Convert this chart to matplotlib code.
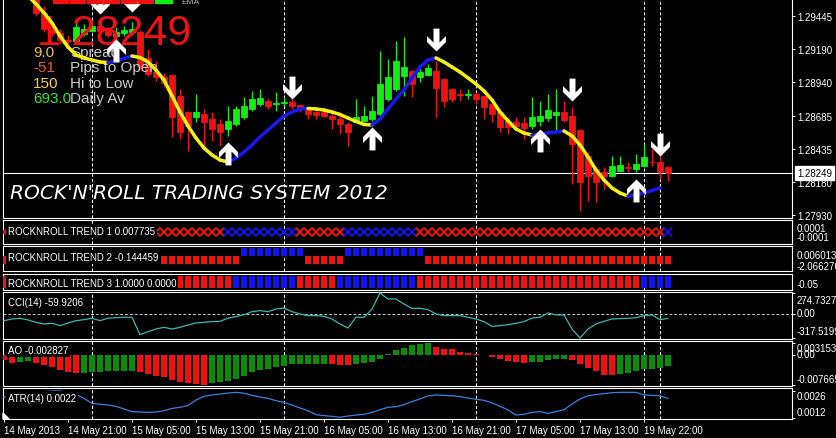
import numpy as np
import matplotlib
matplotlib.use("Agg")
import matplotlib.pyplot as plt
from matplotlib.collections import LineCollection
from matplotlib.path import Path
from matplotlib.patches import Rectangle, Polygon

# ---------------- data ----------------
time_labels = ["14 May 2013", "14 May 21:00", "15 May 05:00", "15 May 13:00",
               "15 May 21:00", "16 May 05:00", "16 May 13:00", "16 May 21:00",
               "17 May 05:00", "17 May 13:00", "19 May 22:00"]
time_label_bars = [0, 8, 16, 24, 32, 40, 48, 56, 64, 72, 80]
separator_bars = [11, 35, 59, 80, 82]

opens = [1.29640, 1.29660, 1.29630, 1.29650, 1.29620, 1.29465, 1.29344, 1.29310, 1.29260, 1.29255,
         1.29306, 1.29331, 1.29369, 1.29330, 1.29290, 1.29310, 1.29320, 1.29321, 1.29120, 1.29020,
         1.28979, 1.28994, 1.28837, 1.28710, 1.28672, 1.28698, 1.28660, 1.28622, 1.28584, 1.28622,
         1.28672, 1.28736, 1.28774, 1.28799, 1.28775, 1.28785, 1.28787, 1.28766, 1.28736, 1.28716,
         1.28710, 1.28685, 1.28660, 1.28622, 1.28639, 1.28647, 1.28660, 1.28698, 1.28812, 1.28888,
         1.28989, 1.29027, 1.28977, 1.28994, 1.29027, 1.28964, 1.28888, 1.28850, 1.28845, 1.28850,
         1.28837, 1.28774, 1.28710, 1.28647, 1.28634, 1.28627, 1.28609, 1.28647, 1.28665, 1.28690,
         1.28710, 1.28685, 1.28576, 1.28381, 1.28280, 1.28259, 1.28229, 1.28267, 1.28292, 1.28280,
         1.28300, 1.28335, 1.28335, 1.28292]
highs = [1.29690, 1.29700, 1.29680, 1.29690, 1.29640, 1.29521, 1.29390, 1.29345, 1.29300, 1.29395,
         1.29382, 1.29407, 1.29390, 1.29350, 1.29357, 1.29370, 1.29395, 1.29340, 1.29192, 1.29101,
         1.29010, 1.29002, 1.28888, 1.28723, 1.28850, 1.28736, 1.28710, 1.28660, 1.28761, 1.28761,
         1.28824, 1.28875, 1.28888, 1.28812, 1.28862, 1.28824, 1.28812, 1.28774, 1.28748, 1.28736,
         1.28736, 1.28710, 1.28685, 1.28634, 1.28812, 1.28761, 1.28837, 1.29179, 1.29116, 1.29255,
         1.29281, 1.29035, 1.29053, 1.29078, 1.29103, 1.28969, 1.28893, 1.28888, 1.28888, 1.28862,
         1.28837, 1.28786, 1.28723, 1.28672, 1.28672, 1.28672, 1.28824, 1.28799, 1.28850, 1.28888,
         1.28799, 1.28748, 1.28584, 1.28406, 1.28292, 1.28292, 1.28381, 1.28381, 1.28330, 1.28394,
         1.28470, 1.28432, 1.28419, 1.28305]
lows = [1.29610, 1.29620, 1.29600, 1.29610, 1.29440, 1.29319, 1.29290, 1.29230, 1.29230, 1.29240,
        1.29293, 1.29319, 1.29310, 1.29280, 1.29268, 1.29290, 1.29300, 1.29040, 1.28990, 1.28950,
        1.28900, 1.28520, 1.28508, 1.28419, 1.28634, 1.28457, 1.28495, 1.28457, 1.28533, 1.28609,
        1.28660, 1.28723, 1.28761, 1.28736, 1.28723, 1.28761, 1.28736, 1.28710, 1.28660, 1.28660,
        1.28672, 1.28584, 1.28546, 1.28457, 1.28634, 1.28634, 1.28647, 1.28685, 1.28799, 1.28875,
        1.28837, 1.28824, 1.28939, 1.28989, 1.28672, 1.28748, 1.28786, 1.28799, 1.28812, 1.28774,
        1.28660, 1.28634, 1.28558, 1.28546, 1.28584, 1.28508, 1.28584, 1.28609, 1.28647, 1.28571,
        1.28634, 1.28166, 1.27963, 1.28039, 1.28027, 1.28128, 1.28216, 1.28254, 1.28254, 1.28254,
        1.28292, 1.28305, 1.28204, 1.28191]
closes = [1.29660, 1.29630, 1.29650, 1.29620, 1.29465, 1.29344, 1.29310, 1.29260, 1.29250, 1.29357,
          1.29344, 1.29369, 1.29330, 1.29300, 1.29319, 1.29339, 1.29345, 1.29063, 1.29002, 1.28979,
          1.28930, 1.28672, 1.28558, 1.28609, 1.28710, 1.28634, 1.28584, 1.28558, 1.28647, 1.28736,
          1.28761, 1.28812, 1.28817, 1.28761, 1.28780, 1.28792, 1.28756, 1.28736, 1.28698, 1.28690,
          1.28685, 1.28660, 1.28622, 1.28563, 1.28672, 1.28685, 1.28723, 1.28926, 1.28977, 1.29103,
          1.29053, 1.28926, 1.29015, 1.29045, 1.28893, 1.28799, 1.28812, 1.28845, 1.28850, 1.28812,
          1.28748, 1.28698, 1.28596, 1.28596, 1.28609, 1.28591, 1.28672, 1.28685, 1.28728, 1.28716,
          1.28655, 1.28470, 1.28183, 1.28229, 1.28183, 1.28229, 1.28300, 1.28310, 1.28287, 1.28318,
          1.28368, 1.28330, 1.28254, 1.28249]

# smoothed trend line (blue while rising, yellow while falling)
trend_ma = [1.29762, 1.29709, 1.29648, 1.29595, 1.29534, 1.29466, 1.29390, 1.29291, 1.29207, 1.29146,
            1.29124, 1.29108, 1.29093, 1.29089, 1.29101, 1.29120, 1.29139, 1.29127, 1.29093, 1.29032,
            1.28956, 1.28835, 1.28713, 1.28607, 1.28515, 1.28439, 1.28386, 1.28348, 1.28333, 1.28363,
            1.28409, 1.28462, 1.28523, 1.28576, 1.28629, 1.28683, 1.28713, 1.28736, 1.28740, 1.28736,
            1.28728, 1.28713, 1.28694, 1.28667, 1.28641, 1.28618, 1.28614, 1.28660, 1.28736, 1.28812,
            1.28880, 1.28972, 1.29055, 1.29108, 1.29124, 1.29093, 1.29055, 1.29017, 1.28972, 1.28926,
            1.28873, 1.28804, 1.28713, 1.28645, 1.28584, 1.28553, 1.28538, 1.28542, 1.28553, 1.28561,
            1.28569, 1.28531, 1.28462, 1.28371, 1.28272, 1.28196, 1.28135, 1.28097, 1.28074, 1.28082,
            1.28097, 1.28116, 1.28135, np.nan]

# signal arrows: bar, direction, price of the arrow tip
arrow_bars = [12, 16, 14, 28, 36, 46, 54, 67, 71, 79, 82]
arrow_dirs = ["down", "down", "up", "up", "down", "up", "down", "up", "down", "up", "down"]
arrow_tips = [1.29458, 1.29473, 1.29268, 1.28485, 1.28812, 1.28599, 1.29177, 1.28584,
              1.28797, 1.28204, 1.28379]

price_ticks = [1.29445, 1.29190, 1.28940, 1.28685, 1.28435, 1.28180, 1.27930]

# trend states per bar: 1 = up (blue), -1 = down (red)
trend1 = [-1, -1, -1, -1, -1, -1, -1, -1, -1, -1, -1, -1, -1, -1, -1, -1, -1, -1, -1, -1,
          -1, -1, -1, -1, -1, -1, -1, -1, 1, 1, 1, 1, 1, 1, 1, 1, 1, -1, -1, -1,
          -1, -1, -1, 1, 1, 1, 1, 1, 1, 1, 1, 1, -1, -1, -1, -1, -1, -1, -1, -1,
          -1, -1, -1, -1, -1, -1, -1, -1, -1, -1, -1, -1, -1, -1, -1, -1, -1, -1, -1, -1,
          -1, -1, -1, 1]
trend2 = [-1, -1, -1, -1, -1, -1, -1, -1, -1, -1, -1, -1, -1, -1, -1, -1, -1, -1, -1, -1,
          -1, -1, -1, -1, -1, -1, -1, -1, -1, -1, 1, 1, 1, 1, 1, 1, 1, 1, -1, -1,
          -1, -1, -1, 1, 1, 1, 1, 1, 1, 1, 1, 1, 1, -1, -1, -1, -1, -1, -1, -1,
          -1, -1, -1, -1, -1, -1, -1, -1, -1, -1, -1, -1, -1, -1, -1, -1, -1, -1, -1, -1,
          -1, -1, -1, -1]
trend3 = [-1, -1, -1, -1, -1, -1, -1, -1, -1, -1, -1, -1, -1, -1, -1, -1, -1, -1, -1, -1,
          -1, -1, -1, -1, -1, -1, -1, -1, -1, 1, 1, 1, 1, 1, 1, 1, 1, -1, -1, -1,
          -1, -1, 1, 1, 1, 1, 1, 1, 1, 1, 1, 1, -1, -1, -1, -1, -1, -1, -1, -1,
          -1, -1, -1, -1, -1, -1, -1, -1, -1, -1, -1, -1, -1, -1, -1, -1, -1, -1, -1, -1,
          1, 1, 1, 1]

cci = [-89, -67, -58, -80, -111, -133, -124, -155, -120, -89, -76, -58, -89, -58, -50, -45, -45,
       -273, -234, -199, -177, -199, -177, -146, -120, -111, -102, -98,
       -58, -36, -10, 29, 43, 29, 64, 77, 29,
       -1, -23, -23, -32, -67, -133, -186, -45, -45, 64,
       274.7327, 196, 196, 130, 73, 73, 56,
       -1, -23, -23, -23, -45, -67, -102, -164, -155, -142, -124, -102,
       -54, -45, 12, -14, -14,
       -199, -317.5199, -199, -133, -98, -67, -62, -58, -50, -23, -14, -76, -59.9206]

ao = [-0.00120, -0.00189, -0.00172, -0.00146, -0.00189, -0.00258, -0.00301, -0.00378, -0.00440, -0.00455,
      -0.00445, -0.00435, -0.00425, -0.00410, -0.00405, -0.00402, -0.00400, -0.00429, -0.00489, -0.00532,
      -0.00550, -0.00635, -0.00687, -0.00721, -0.00747, -0.007665, -0.00704, -0.00687, -0.00661, -0.00618,
      -0.00532, -0.00429, -0.00378, -0.00343, -0.00292, -0.00275, -0.00232, -0.00220, -0.00217, -0.00215,
      -0.00213, -0.00218, -0.00240, -0.00260, -0.00215, -0.00189, -0.00172, -0.00103, 0.00026, 0.00129,
      0.00197, 0.00258, 0.00283, 0.003153, 0.00215, 0.00172, 0.00155, 0.00094, 0.00069, 0.00043,
      0.00010, -0.00043, -0.00103, -0.00146, -0.00172, -0.00189, -0.00172, -0.00163, -0.00129, -0.00103,
      -0.00098, -0.00129, -0.00232, -0.00318, -0.00404, -0.00507, -0.00515, -0.00489, -0.00447, -0.00404,
      -0.00361, -0.00343, -0.00335, -0.002827]

atr = [0.00227, 0.00232, 0.00239, 0.00246, 0.00253, 0.00256, 0.00260, 0.00260, 0.00253, 0.00242,
       0.00221, 0.00195, 0.00190, 0.00186, 0.00179, 0.00165, 0.00151, 0.00149, 0.00147, 0.00149,
       0.00156, 0.00168, 0.00174, 0.00183, 0.00212, 0.00232, 0.00239, 0.00244, 0.00249, 0.00253,
       0.00248, 0.00237, 0.00228, 0.00221, 0.00209, 0.00200, 0.00186, 0.00170, 0.00156, 0.00135,
       0.00130, 0.00126, 0.00121, 0.00128, 0.00133, 0.00137, 0.00147, 0.00161, 0.00174, 0.00177,
       0.00188, 0.00204, 0.00218, 0.00234, 0.00239, 0.00237, 0.00235, 0.00230, 0.00223, 0.00216,
       0.00211, 0.00197, 0.00179, 0.00160, 0.00133, 0.00137, 0.00147, 0.00151, 0.00142, 0.00151,
       0.00161, 0.00191, 0.00218, 0.00235, 0.00241, 0.00246, 0.00251, 0.00253, 0.00253, 0.00253,
       0.00239, 0.00237, 0.00234, 0.00221]

dash_rows = [("9.0", "#E8C048", "Spread"), ("-51", "#F06028", "Pips to Open"),
             ("150", "#F8D048", "Hi to Low"), ("693.0", "#38E038", "Daily Av")]

# ---------------- layout ----------------
W, H = 836, 439
LEFT, RIGHT = 3, 792          # pixel edges of every panel
FIRST_BAR_PX, BAR_PX = 4, 8   # bar spacing on the time axis
BULL, BEAR = "#12EE12", "#F21010"
UP_BLUE, DN_RED = "#1212F0", "#F01212"
WHITE = "white"

fig = plt.figure(figsize=(W / 100, H / 100), dpi=100, facecolor="black")


def fx(x):
    return x / W


def fy(y):
    return 1 - y / H


def panel(top, bottom):
    ax = fig.add_axes([fx(LEFT), fy(bottom), (RIGHT - LEFT) / W, (bottom - top) / H])
    ax.set_facecolor("black")
    for s in ax.spines.values():
        s.set_color(WHITE)
        s.set_linewidth(0.8)
    ax.set_xlim((LEFT - FIRST_BAR_PX) / BAR_PX, (RIGHT - FIRST_BAR_PX) / BAR_PX)
    ax.tick_params(axis="x", bottom=False, labelbottom=False)
    ax.tick_params(axis="y", left=False, labelleft=False, right=True, labelright=False,
                   direction="out", length=2.2, width=0.7, colors=WHITE, labelsize=7, pad=1.5)
    ax.set_yticks([])
    for b in separator_bars:
        ax.axvline(b, color=WHITE, lw=0.75, ls=(0, (3, 2)), zorder=1)
    return ax


def side_label(ax, text, value, dy=0.0):
    ax.annotate(text, xy=(1, value), xycoords=ax.get_yaxis_transform(),
                xytext=(5, dy), textcoords="offset pixels", ha="left", va="center",
                color=WHITE, fontsize=7, family="Liberation Sans", annotation_clip=False)


def panel_title(x, y, text):
    fig.text(fx(x), fy(y), text, color=WHITE, fontsize=7, family="Liberation Sans",
             ha="left", va="center", zorder=10,
             bbox=dict(facecolor="black", edgecolor="none", pad=1.2))


n = len(closes)
x = np.arange(n)
o, h, l, c = map(np.asarray, (opens, highs, lows, closes))

# ---------------- main price panel ----------------
ax = panel(0, 219)
ax.spines["top"].set_visible(False)
ax.set_ylim(1.27907, 1.29572)
bull = c >= o
ccol = np.where(bull, BULL, BEAR)
ax.vlines(x, l, h, colors=ccol, lw=0.9, zorder=3)
ax.bar(x, c - o, bottom=o, width=0.66, color=ccol, edgecolor=ccol, lw=0.6, zorder=4)

# dashboard text sits above the candles but below the trend line and arrows
ax.text(fx(37), fy(45), f"{c[-1]:.5f}", transform=fig.transFigure, color="#EE1111",
        fontsize=31, family="Liberation Sans", va="baseline", zorder=4.5)
for k, (val, vcol, name) in enumerate(dash_rows):
    yy = 53 + 15.3 * k
    ax.text(fx(33), fy(yy), val, transform=fig.transFigure, color=vcol, fontsize=11,
            family="Liberation Sans", va="center", zorder=4.5)
    ax.text(fx(70), fy(yy), name, transform=fig.transFigure, color="#C8C8C8", fontsize=11,
            family="Liberation Sans", va="center", zorder=4.5)

ma = np.asarray(trend_ma)
segs, scol = [], []
for i in range(n - 1):
    if np.isnan(ma[i]) or np.isnan(ma[i + 1]):
        continue
    segs.append([(i, ma[i]), (i + 1, ma[i + 1])])
    scol.append("#1818F0" if ma[i + 1] > ma[i] else "#F8F010")
ax.add_collection(LineCollection(segs, colors=scol, linewidths=2.5, capstyle="round", zorder=5))

arrow_down = [(0, 0), (9.5, 9.5), (9.5, 15.5), (3, 9), (3, 23), (-3, 23), (-3, 9),
              (-9.5, 15.5), (-9.5, 9.5), (0, 0)]
for b, d, p in zip(arrow_bars, arrow_dirs, arrow_tips):
    verts = arrow_down if d == "down" else [(a, -v) for a, v in arrow_down]
    ax.plot([b], [p], ls="none", marker=Path(verts, closed=True), ms=33,
            color=WHITE, mec=WHITE, mew=0, zorder=6)

ax.axhline(c[-1], color=WHITE, lw=0.8, zorder=2)
ax.set_yticks(price_ticks)
ax.set_yticklabels([f"{v:.5f}" for v in price_ticks], family="Liberation Sans")
ax.tick_params(axis="y", labelright=True)
ax.annotate(f"{c[-1]:.5f}", xy=(1, c[-1]), xycoords=ax.get_yaxis_transform(),
            xytext=(5, 0), textcoords="offset pixels", ha="left", va="center",
            fontsize=7, color="black", family="Liberation Sans", annotation_clip=False,
            zorder=12, bbox=dict(boxstyle="square,pad=0.2", fc=WHITE, ec=WHITE))

# trend boxes row at the upper left
for x0 in (53, 70, 87, 104, 121, 138):
    fig.add_artist(Rectangle((fx(x0), fy(4)), 15 / W, 8 / H, transform=fig.transFigure,
                             color=BEAR, zorder=8))
fig.add_artist(Rectangle((fx(155), fy(4)), 17 / W, 8 / H, transform=fig.transFigure,
                         color=BULL, zorder=8))
fig.text(fx(181), fy(2), "EMA", color="#B0B0B0", fontsize=6, family="Liberation Sans",
         va="center", zorder=9)
fig.text(fx(10), fy(194), "ROCK'N'ROLL TRADING SYSTEM 2012", color=WHITE, fontsize=14.5,
         family="DejaVu Sans", style="oblique", va="center", zorder=9)

# ---------------- trend panels ----------------
t1 = np.asarray(trend1)
ax1 = panel(221, 245)
ax1.set_ylim(-1, 1)
ax1.scatter(x, np.zeros(n), marker="x", s=38, linewidths=1.4,
            c=np.where(t1 > 0, UP_BLUE, DN_RED), zorder=3)
panel_title(8, 232, "ROCKNROLL TREND 1 0.007735")
fig.text(fx(797), fy(229), "0.0001", color=WHITE, fontsize=7, family="Liberation Sans", va="center")
fig.text(fx(797), fy(238.5), "-0.0001", color=WHITE, fontsize=7, family="Liberation Sans", va="center")

t2 = np.asarray(trend2)
ax2 = panel(247, 272)
ax2.set_ylim(-1.84, 1.29)
ax2.bar(x, t2, width=0.84, color=np.where(t2 > 0, UP_BLUE, DN_RED), zorder=3)
panel_title(8, 258, "ROCKNROLL TREND 2 -0.144459")
fig.text(fx(797), fy(256), "0.006013", color=WHITE, fontsize=7, family="Liberation Sans", va="center")
fig.text(fx(797), fy(267), "-2.066276", color=WHITE, fontsize=7, family="Liberation Sans", va="center")

t3 = np.asarray(trend3)
ax3 = panel(275, 291)
ax3.set_ylim(-0.17, 1.17)
ax3.bar(x, np.ones(n), width=0.84, color=np.where(t3 > 0, UP_BLUE, DN_RED), zorder=3)
panel_title(8, 284, "ROCKNROLL TREND 3 1.0000 0.0000")
fig.text(fx(797), fy(285), "-0.05", color=WHITE, fontsize=7, family="Liberation Sans", va="center")

# ---------------- CCI ----------------
axc = panel(293, 340)
axc.set_ylim(-330.7, 287.9)
axc.axhline(0, color="#C8C8C8", lw=0.7, ls=(0, (3, 2)), zorder=1)
axc.plot(x, cci, color="#3AB8B0", lw=0.9, zorder=3)
axc.set_yticks([max(cci), 0, min(cci)])
side_label(axc, f"{max(cci):.4f}", max(cci), -6.5)
side_label(axc, "0.00", 0, 1)
side_label(axc, f"{min(cci):.4f}", min(cci), 6.5)
panel_title(8, 303, f"CCI(14) {cci[-1]:.4f}")

# ---------------- Awesome Oscillator ----------------
av = np.asarray(ao)
axa = panel(342, 387)
axa.set_ylim(-0.007923, 0.003668)
rising = np.r_[False, np.diff(av) > 0]
axa.bar(x, av, width=0.72, color=np.where(rising, "#0A8C0A", "#F01010"), zorder=3)
axa.set_yticks([av.max(), 0, av.min()])
side_label(axa, f"{av.max():.6f}", av.max(), -5)
side_label(axa, "0.00", 0, 1)
side_label(axa, f"{av.min():.6f}", av.min(), 6)
panel_title(8, 351, f"AO {av[-1]:.6f}")

# ---------------- ATR ----------------
axr = panel(389, 420)
axr.set_ylim(0.001121, 0.002758)
axr.plot(x, atr, color="#3580E8", lw=0.9, zorder=3)
axr.set_yticks([0.0026, 0.0012])
side_label(axr, "0.0026", 0.0026, -5)
side_label(axr, "0.0012", 0.0012, 5.5)
panel_title(8, 399, f"ATR(14) {atr[-1]:.4f}")
fig.add_artist(Polygon([(fx(3), fy(420)), (fx(3), fy(414)), (fx(9), fy(420))],
                       closed=True, transform=fig.transFigure, color=WHITE, zorder=9))

axr.set_xticks(time_label_bars)
axr.set_xticklabels(time_labels, ha="left", family="Liberation Sans")
axr.tick_params(axis="x", bottom=True, labelbottom=True, direction="out", length=2.5,
                width=0.7, colors=WHITE, labelsize=7, pad=1.5)

fig.savefig("out.png", dpi=100, facecolor="black")
